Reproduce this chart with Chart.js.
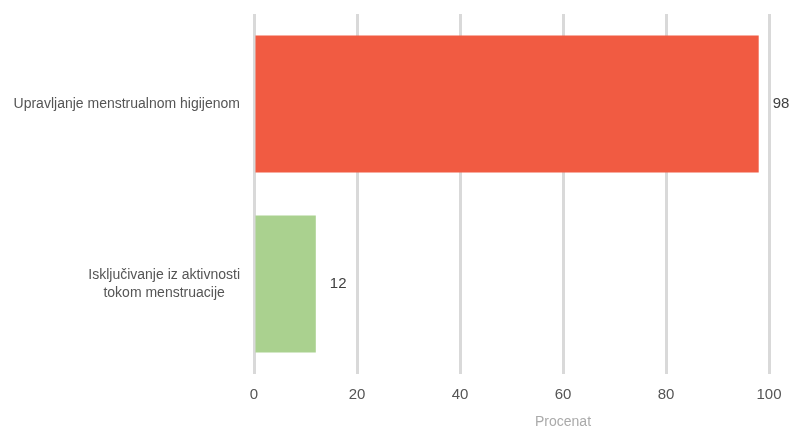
<!DOCTYPE html>
<html><head><meta charset="utf-8">
<script src="https://cdn.jsdelivr.net/npm/chart.js@4/dist/chart.umd.min.js"></script>
<style>html,body{margin:0;padding:0;background:#fff;}#wrap{width:791px;height:431px;position:relative;}</style>
</head><body><div id="wrap"><canvas id="c"></canvas></div>
<script>
const categories = [["Upravljanje menstrualnom higijenom"], ["Isključivanje iz aktivnosti", "tokom menstruacije"]];
const values = [98, 12];
const barColors = ["#F15B42", "#AAD18F"];
const xTicks = [0, 20, 40, 60, 80, 100];
const xTitle = "Procenat";
const FONT = "'Liberation Sans Narrow', 'Arial Narrow', 'Liberation Sans', sans-serif";

const customDraw = {
  id: 'customDraw',
  afterDraw(chart) {
    const ctx = chart.ctx;
    const xs = chart.scales.x, ys = chart.scales.y;
    ctx.save();
    ctx.font = "14px " + FONT;
    ctx.fillStyle = "#555";
    ctx.textBaseline = "middle";
    ctx.textAlign = "center";
    const rightEdge = xs.left - 14;
    categories.forEach((lines, i) => {
      const yc = ys.getPixelForValue(i);
      const w = Math.max(...lines.map(l => ctx.measureText(l).width));
      const cx = rightEdge - w / 2;
      const lh = 18;
      lines.forEach((l, j) => {
        ctx.fillText(l, cx, yc + (j - (lines.length - 1) / 2) * lh);
      });
    });
    ctx.textAlign = "left";
    ctx.fillStyle = "#404040";
    ctx.font = "15px " + FONT;
    const meta = chart.getDatasetMeta(0);
    meta.data.forEach((bar, i) => {
      ctx.fillText(String(values[i]), bar.x + 14, bar.y);
    });
    ctx.font = "14px " + FONT;
    ctx.fillStyle = "#aaa";
    ctx.textAlign = "center";
    ctx.fillText(xTitle, xs.getPixelForValue(60), 422);
    ctx.restore();
  }
};

new Chart(document.getElementById('c'), {
  type: 'bar',
  data: {
    labels: categories,
    datasets: [{ data: values, backgroundColor: barColors, borderWidth: 0,
      categoryPercentage: 1.0, barPercentage: 0.76 }]
  },
  options: {
    indexAxis: 'y',
    responsive: true, maintainAspectRatio: false, animation: false,
    layout: { padding: { top: 14, right: 22, left: 0, bottom: 0 } },
    plugins: { legend: { display: false }, tooltip: { enabled: false } },
    scales: {
      x: {
        min: 0, max: 100,
        afterBuildTicks(s) { s.ticks = xTicks.map(v => ({ value: v })); },
        afterFit(s) { s.height = 57; s.paddingRight = 0; s.paddingLeft = 0; },
        grid: { color: '#d9d9d9', lineWidth: 3, drawTicks: false },
        border: { display: false },
        ticks: { color: '#555', font: { size: 15, family: FONT }, padding: 12, maxRotation: 0 }
      },
      y: {
        afterFit(s) { s.width = 254; },
        grid: { display: false },
        border: { display: false },
        ticks: { display: false }
      }
    }
  },
  plugins: [customDraw]
});
</script></body></html>
